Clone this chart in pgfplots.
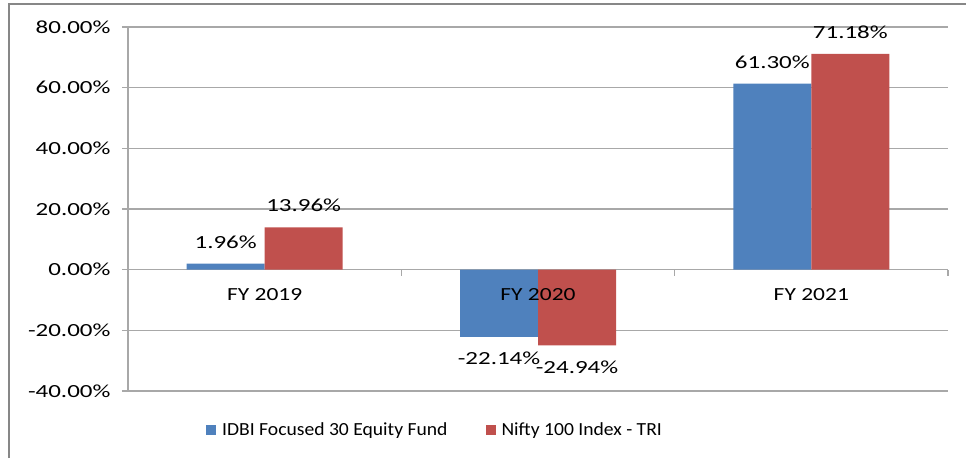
\documentclass[border=0pt]{standalone}
\usepackage{pgfplots}
\pgfplotsset{compat=1.18}
\usepackage{fontspec}
\setmainfont[FakeStretch=1.35]{Carlito}
\newfontfamily\legfont[FakeStretch=1.06]{Carlito}
\newfontfamily\catfont[FakeStretch=1.27]{Carlito}
\definecolor{fundblue}{RGB}{79,129,189}
\definecolor{idxred}{RGB}{192,80,77}
\definecolor{gridgray}{RGB}{168,168,168}
\definecolor{framegray}{RGB}{135,135,135}
\begin{document}
\begin{tikzpicture}[font=\fontsize{18.5}{22}\selectfont]
\path[use as bounding box] (0,0) rectangle (966pt,458pt);
\draw[framegray, line width=2.5pt] (9pt,0) -- (9pt,454pt) -- (966pt,454pt);
\begin{axis}[
  at={(128pt,67pt)}, anchor=south west,
  scale only axis, width=820pt, height=364pt,
  ybar=0pt, bar width=78pt,
  xmin=-0.5, xmax=2.5, ymin=-40, ymax=80,
  ytick={-40,-20,0,20,40,60,80},
  xtick={-0.5,0.5,1.5,2.5}, xticklabels={},
  axis y line*=left, axis x line*=middle,
  clip=false,
  /pgf/number format/assume math mode=true,
  yticklabel={\pgfmathprintnumber[fixed,fixed zerofill,precision=2]{\tick}\%},
  yticklabel style={xshift=-8pt},
  ymajorgrids,
  major grid style={gridgray, line width=1.3pt},
  axis line style={gridgray, line width=1.3pt},
  tick style={gridgray, line width=1.3pt},
  major tick length=6pt, tick align=outside,
  nodes near coords={\pgfmathprintnumber[fixed,fixed zerofill,precision=2]{\pgfplotspointmeta}\%},
  nodes near coords align={vertical},
  every node near coord/.append style={inner ysep=15pt, text=black},
  legend style={at={(0.0951,-0.107)}, anchor=west, draw=none, fill=none, inner sep=0pt,
    nodes={inner sep=0pt, font=\fontsize{18.5}{22}\legfont},
    legend columns=2, /tikz/column sep=0pt},
]
\addplot[fill=fundblue, draw=none, legend image code/.code={\fill[fundblue] (0pt,-5pt) rectangle (10pt,5pt); \path (16pt,0pt);}]
  coordinates {(0,1.96) (1,-22.14) (2,61.30)};
\addlegendentry{IDBI Focused 30 Equity Fund\hspace*{38pt}}
\addplot[fill=idxred, draw=none, legend image code/.code={\fill[idxred] (0pt,-5pt) rectangle (10pt,5pt); \path (16pt,0pt);}]
  coordinates {(0,13.96) (1,-24.94) (2,71.18)};
\addlegendentry{Nifty 100 Index - TRI}
\node[font=\fontsize{18.5}{22}\catfont] at (axis cs:0,0) [yshift=-25pt] {FY 2019};
\node[font=\fontsize{18.5}{22}\catfont] at (axis cs:1,0) [yshift=-25pt] {FY 2020};
\node[font=\fontsize{18.5}{22}\catfont] at (axis cs:2,0) [yshift=-25pt] {FY 2021};
\end{axis}
\end{tikzpicture}
\end{document}
